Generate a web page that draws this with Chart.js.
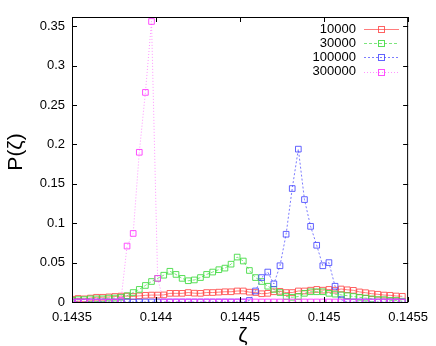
<!DOCTYPE html>
<html>
<head>
<meta charset="utf-8">
<script src="https://cdn.jsdelivr.net/npm/chart.js@4/dist/chart.umd.min.js"></script>
<style>
  html, body { margin: 0; padding: 0; background: #fff; }
  #wrap { width: 436px; height: 346px; }
</style>
</head>
<body>
<div id="wrap"><canvas id="chart" width="436" height="346"></canvas></div>
<script>
// zeta grid (x values)
const zeta = [
  0.1435000, 0.1435364, 0.1435728, 0.1436092, 0.1436456, 0.1436820, 0.1437184, 0.1437548, 0.1437912, 0.1438276,
  0.1438640, 0.1439004, 0.1439368, 0.1439732, 0.1440096, 0.1440460, 0.1440824, 0.1441188, 0.1441552, 0.1441916,
  0.1442280, 0.1442644, 0.1443008, 0.1443372, 0.1443736, 0.1444100, 0.1444464, 0.1444828, 0.1445192, 0.1445556,
  0.1445920, 0.1446284, 0.1446648, 0.1447012, 0.1447376, 0.1447740, 0.1448104, 0.1448468, 0.1448832, 0.1449196,
  0.1449560, 0.1449924, 0.1450288, 0.1450652, 0.1451016, 0.1451380, 0.1451744, 0.1452108, 0.1452472, 0.1452836,
  0.1453200, 0.1453564, 0.1453928, 0.1454292, 0.1454656
];

const seriesNames = ["10000", "30000", "100000", "300000"];

const p10000 = [
  0.0035, 0.0045, 0.0040, 0.0050, 0.0060, 0.0060, 0.0065, 0.0070, 0.0075, 0.0075,
  0.0070, 0.0078, 0.0085, 0.0088, 0.0088, 0.0090, 0.0110, 0.0110, 0.0110, 0.0120,
  0.0112, 0.0110, 0.0120, 0.0120, 0.0125, 0.0130, 0.0130, 0.0140, 0.0140, 0.0125,
  0.0120, 0.0105, 0.0110, 0.0130, 0.0135, 0.0120, 0.0120, 0.0140, 0.0140, 0.0150,
  0.0160, 0.0150, 0.0160, 0.0150, 0.0165, 0.0155, 0.0148, 0.0128, 0.0118, 0.0105,
  0.0098, 0.0088, 0.0085, 0.0076, 0.0072
];

const p30000 = [
  0.002, 0.003, 0.003, 0.004, 0.004, 0.004, 0.005, 0.005, 0.006, 0.008,
  0.012, 0.016, 0.021, 0.026, 0.030, 0.034, 0.039, 0.035, 0.030, 0.027,
  0.028, 0.031, 0.035, 0.038, 0.041, 0.043, 0.048, 0.057, 0.052, 0.040,
  0.031, 0.026, 0.020, 0.016, 0.012, 0.007, 0.006, 0.007, 0.011, 0.013,
  0.013, 0.013, 0.011, 0.010, 0.009, 0.008, 0.007, 0.006, 0.005, 0.004,
  0.003, 0.003, 0.002, 0.002, 0.001
];

const p100000 = [
  0, 0, 0, 0, 0, 0, 0, 0, 0, 0,
  0, 0, 0, 0, 0, 0, 0, 0, 0, 0,
  0, 0, 0, 0, 0, 0, 0, 0, 0, 0.002,
  0.014, 0.031, 0.038, 0.023, 0.046, 0.086, 0.144, 0.194, 0.130, 0.096,
  0.072, 0.046, 0.050, 0.020, 0.003, 0, 0, 0, 0, 0,
  0, 0, 0, 0, 0
];

const p300000 = [
  0, 0, 0, 0, 0, 0, 0, 0, 0.002, 0.071,
  0.087, 0.190, 0.266, 0.356, 0.030, 0, 0, 0, 0, 0,
  0, 0, 0, 0, 0, 0, 0, 0, 0, 0,
  0, 0, 0, 0, 0, 0, 0, 0, 0, 0,
  0, 0, 0, 0, 0, 0, 0, 0, 0, 0,
  0, 0, 0, 0, 0
];

const xTicks = [0.1435, 0.144, 0.1445, 0.145, 0.1455];
const yTicks = [0, 0.05, 0.1, 0.15, 0.2, 0.25, 0.3, 0.35];

const lineColors = ["rgba(255,80,80,0.75)", "rgba(80,220,80,0.75)", "rgba(80,80,255,0.75)", "rgba(255,80,255,0.6)"];
const markColors = ["rgba(255,70,70,0.85)", "rgba(70,220,70,0.9)", "rgba(70,70,255,0.85)", "rgba(255,60,255,0.9)"];
const dashes = [[], [3, 2], [2, 2], [1, 2]];
const allSeries = [p10000, p30000, p100000, p300000];

const FONT = "Liberation Sans, Arial, sans-serif";

function toPoints(vals) {
  return vals.map((v, i) => ({ x: zeta[i], y: v }));
}

function fmt(v) {
  return String(Number(v.toFixed(5)));
}

// frame, mirrored inward ticks, legend and axis titles in gnuplot style
const gnuplotFrame = {
  id: "gnuplotFrame",
  afterDraw(chart) {
    const { ctx, chartArea: a, scales } = chart;
    ctx.save();
    ctx.strokeStyle = "#000";
    ctx.lineWidth = 1;
    ctx.strokeRect(a.left + 0.5, a.top + 0.5, a.right - a.left - 1, a.bottom - a.top);
    ctx.beginPath();
    xTicks.forEach((t) => {
      const px = Math.round(scales.x.getPixelForValue(t)) + 0.5;
      ctx.moveTo(px, a.bottom); ctx.lineTo(px, a.bottom - 5);
      ctx.moveTo(px, a.top); ctx.lineTo(px, a.top + 5);
    });
    yTicks.forEach((t) => {
      const py = Math.round(scales.y.getPixelForValue(t)) + 0.5;
      ctx.moveTo(a.left, py); ctx.lineTo(a.left + 5, py);
      ctx.moveTo(a.right, py); ctx.lineTo(a.right - 5, py);
    });
    ctx.stroke();

    // legend
    ctx.font = "13px " + FONT;
    ctx.textBaseline = "middle";
    ctx.textAlign = "right";
    seriesNames.forEach((name, i) => {
      const y = 29 + i * 14.2;
      ctx.fillStyle = "#000";
      ctx.fillText(name, 356, y);
      ctx.strokeStyle = lineColors[i];
      ctx.setLineDash(dashes[i]);
      ctx.beginPath();
      ctx.moveTo(364, Math.round(y) + 0.5);
      ctx.lineTo(399, Math.round(y) + 0.5);
      ctx.stroke();
      ctx.setLineDash([]);
      ctx.strokeStyle = markColors[i];
      ctx.strokeRect(Math.round(381) - 2.5, Math.round(y) - 2.5, 6, 6);
    });

    // axis titles
    ctx.fillStyle = "#000";
    ctx.textAlign = "center";
    ctx.textBaseline = "alphabetic";
    ctx.font = "21px " + FONT;
    ctx.fillText("\u03B6", 243, 342);
    ctx.translate(22, 152);
    ctx.rotate(-Math.PI / 2);
    ctx.fillText("P(\u03B6)", 0, 0);
    ctx.restore();
  }
};

new Chart(document.getElementById("chart"), {
  type: "line",
  data: {
    datasets: allSeries.map((vals, i) => ({
      label: seriesNames[i],
      data: toPoints(vals),
      borderColor: lineColors[i],
      borderWidth: 1,
      borderDash: dashes[i],
      pointStyle: "rect",
      pointRadius: 4,
      pointBorderWidth: 1,
      pointBorderColor: markColors[i],
      pointBackgroundColor: "rgba(0,0,0,0)",
      tension: 0,
      order: 3 - i
    }))
  },
  options: {
    responsive: false,
    animation: false,
    devicePixelRatio: 1,
    layout: { padding: { top: 17, right: 22, left: 0, bottom: 0 } },
    plugins: { legend: { display: false }, tooltip: { enabled: false } },
    scales: {
      x: {
        type: "linear",
        min: 0.1435,
        max: 0.1455,
        afterFit: (s) => { s.height = 44; },
        afterBuildTicks: (s) => { s.ticks = xTicks.map((v) => ({ value: v })); },
        grid: { display: false, drawTicks: false },
        border: { display: false },
        ticks: { padding: 8, color: "#000", font: { family: FONT, size: 13 }, callback: (v) => fmt(v), maxRotation: 0 }
      },
      y: {
        type: "linear",
        min: 0,
        max: 0.3617,
        afterFit: (s) => { s.width = 72; },
        afterBuildTicks: (s) => { s.ticks = yTicks.map((v) => ({ value: v })); },
        grid: { display: false, drawTicks: false },
        border: { display: false },
        ticks: { padding: 7, color: "#000", font: { family: FONT, size: 13 }, callback: (v) => fmt(v) }
      }
    }
  },
  plugins: [gnuplotFrame]
});
</script>
</body>
</html>
